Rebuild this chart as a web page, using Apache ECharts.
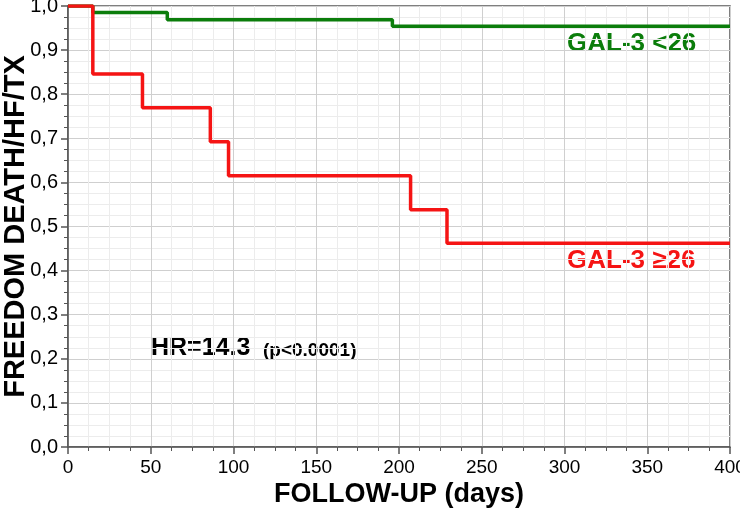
<!DOCTYPE html>
<html>
<head>
<meta charset="utf-8">
<script src="https://cdn.jsdelivr.net/npm/echarts@6/dist/echarts.min.js"></script>
<style>
  html, body { margin: 0; padding: 0; background: #fff; }
  #chart { width: 740px; height: 512px; }
</style>
</head>
<body>
<div id="chart"></div>
<script>
// Kaplan-Meier data
const xTicks = [0, 50, 100, 150, 200, 250, 300, 350, 400];
const lowTimes = [0, 15, 60, 196, 400];          // GAL-3 <26
const lowSurv = [1.0, 0.985, 0.969, 0.954, 0.954];
const highTimes = [0, 15, 45, 86, 97, 207, 229, 400]; // GAL-3 >=26
const highSurv = [1.0, 0.846, 0.769, 0.692, 0.615, 0.538, 0.462, 0.462];

const green = '#0b7d0b';
const red = '#f51414';
const font = '"Liberation Sans", Arial, Helvetica, sans-serif';

function pairs(xs, ys) {
  return xs.map((x, i) => [x, ys[i]]);
}

// 文字标注
function label(text, left, top, size, color) {
  return {
    type: 'text', left: left, top: top,
    style: { text: text, fill: color, fontSize: size, fontWeight: 'bold', fontFamily: font }
  };
}

let myChart = echarts.init(document.getElementById('chart'));
let option = {
  animation: false,
  textStyle: { fontFamily: font },
  grid: {
    left: 68, right: 10, top: 6, bottom: 65,
    outerBoundsMode: 'none',
    containLabel: false,
    show: true,
    borderColor: '#555',
    borderWidth: 1.5
  },
  xAxis: {
    type: 'value',
    min: xTicks[0],
    max: xTicks[xTicks.length - 1],
    interval: 50,
    name: 'FOLLOW-UP (days)',
    nameLocation: 'middle',
    nameMoveOverlap: false,
    nameGap: 34,
    nameTextStyle: { fontSize: 27, fontWeight: 'bold', color: '#000' },
    axisLine: { lineStyle: { color: '#555', width: 1.5 } },
    axisTick: { length: 7, lineStyle: { color: '#555', width: 1.5 } },
    minorTick: { show: true, splitNumber: 4, length: 4, lineStyle: { color: '#555' } },
    axisLabel: { fontSize: 19, color: '#000', margin: 11 },
    splitLine: { lineStyle: { color: '#cfcfcf', width: 1 } },
    minorSplitLine: { show: true, lineStyle: { color: '#ececec', width: 1 } }
  },
  yAxis: {
    type: 'value',
    min: 0,
    max: 1,
    interval: 0.1,
    name: 'FREEDOM DEATH/HF/TX',
    nameLocation: 'middle',
    nameMoveOverlap: false,
    nameGap: 38,
    nameTextStyle: { fontSize: 29, fontWeight: 'bold', color: '#000' },
    axisLine: { show: true, lineStyle: { color: '#555', width: 1.5 } },
    axisTick: { show: true, length: 7, lineStyle: { color: '#555', width: 1.5 } },
    minorTick: { show: true, splitNumber: 4, length: 4, lineStyle: { color: '#555' } },
    axisLabel: {
      fontSize: 20, color: '#000', margin: 10,
      formatter: v => v.toFixed(1).replace('.', ',')
    },
    splitLine: { lineStyle: { color: '#cfcfcf', width: 1 } },
    minorSplitLine: { show: true, lineStyle: { color: '#ececec', width: 1 } }
  },
  series: [{
    name: 'GAL-3 <26',
    type: 'line',
    step: 'end',
    symbol: 'none',
    lineStyle: { color: green, width: 3.5 },
    data: pairs(lowTimes, lowSurv)
  }, {
    name: 'GAL-3 ≥26',
    type: 'line',
    step: 'end',
    symbol: 'none',
    lineStyle: { color: red, width: 3.5 },
    data: pairs(highTimes, highSurv)
  }],
  graphic: [
    label('GAL-3 <26', 567, 31, 26, green),
    label('GAL-3 ≥26', 567, 248, 26, red),
    label('HR=14.3', 151, 336, 25, '#000'),
    label('(p<0.0001)', 263, 341, 19, '#000')
  ]
};
myChart.setOption(option);
</script>
</body>
</html>
